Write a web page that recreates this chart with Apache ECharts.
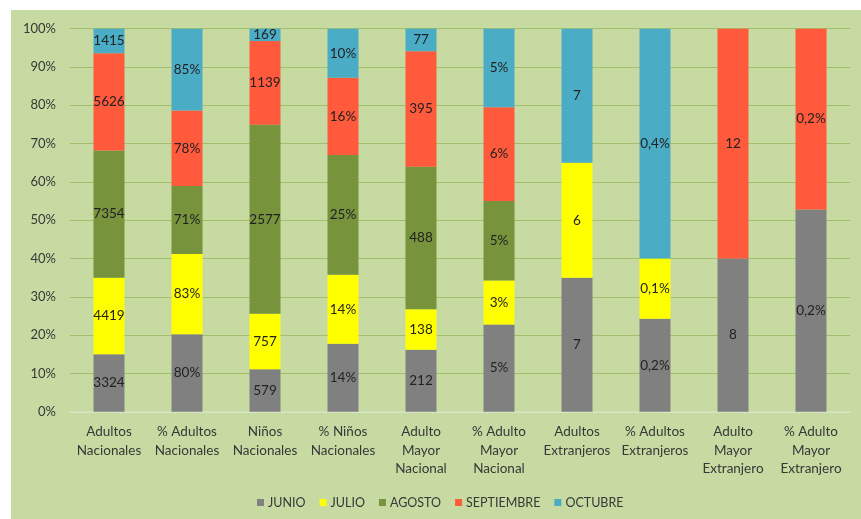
<!DOCTYPE html>
<html>
<head>
<meta charset="utf-8">
<script src="https://cdn.jsdelivr.net/npm/echarts@6/dist/echarts.min.js"></script>
<style>
  html, body { margin: 0; padding: 0; background: #ffffff; }
  #chart { width: 861px; height: 519px; }
</style>
</head>
<body>
<div id="chart"></div>
<script>
// Categories along the x axis (line breaks as shown under each bar)
const categories = [
  'Adultos\nNacionales', '% Adultos\nNacionales',
  'Niños\nNacionales', '% Niños\nNacionales',
  'Adulto\nMayor\nNacional', '% Adulto\nMayor\nNacional',
  'Adultos\nExtranjeros', '% Adultos\nExtranjeros',
  'Adulto\nMayor\nExtranjero', '% Adulto\nMayor\nExtranjero'
];
// Which categories hold percentages (labels get a % sign)
const isPercent = [false, true, false, true, false, true, false, true, false, true];

// Monthly values per category (null = no record that month)
const junio      = [3324, 80.4,  579, 14.0, 212, 5.13, 7,    0.17, 8,    0.19];
const julio      = [4419, 83.1,  757, 14.2, 138, 2.59, 6,    0.11, null, null];
const agosto     = [7354, 70.6, 2577, 24.7, 488, 4.68, null, null, null, null];
const septiembre = [5626, 78.4, 1139, 15.9, 395, 5.51, null, null, 12,   0.17];
const octubre    = [1415, 84.8,  169, 10.1,  77, 4.62, 7,    0.42, null, null];

const seriesNames  = ['JUNIO', 'JULIO', 'AGOSTO', 'SEPTIEMBRE', 'OCTUBRE'];
const seriesValues = [junio, julio, agosto, septiembre, octubre];
const seriesColors = ['#808080', '#ffff00', '#77933c', '#ff5a3c', '#4bacc6'];

const yTicks = [0, 10, 20, 30, 40, 50, 60, 70, 80, 90, 100];

// Per-category totals so each column stacks to 100%
const totals = categories.map((_, i) =>
  seriesValues.reduce((s, arr) => s + (arr[i] || 0), 0));

function fmtLabel(raw, i) {
  if (!isPercent[i]) return String(raw);
  if (raw < 1) return raw.toFixed(1).replace('.', ',') + '%';
  return Math.round(raw) + '%';
}

const FONT = 'Lato, "Open Sans", sans-serif';
const TEXT = '#383838';

const series = seriesNames.map((name, k) => ({
  name: name,
  type: 'bar',
  stack: 'total',
  barWidth: 31,
  itemStyle: { color: seriesColors[k] },
  data: seriesValues[k].map((v, i) => ({
    value: v == null ? null : v / totals[i] * 100,
    raw: v
  })),
  label: {
    show: true,
    position: 'inside',
    color: '#222222',
    fontFamily: FONT,
    fontSize: 13.5,
    formatter: p => p.data.raw == null ? '' : fmtLabel(p.data.raw, p.dataIndex)
  }
}));

const chart = echarts.init(document.getElementById('chart'), null, { renderer: 'canvas' });
chart.setOption({
  animation: false,
  backgroundColor: 'transparent',
  graphic: [{
    type: 'rect',
    z: -10,
    silent: true,
    shape: { x: 11, y: 10, width: 850, height: 509 },
    style: { fill: '#c6daa2' }
  }],
  textStyle: { fontFamily: FONT },
  grid: { left: 70, right: 11, top: 28.7, bottom: 107.3, containLabel: false },
  legend: {
    top: 491,
    left: 252,
    itemWidth: 7,
    itemHeight: 7,
    itemGap: 14,
    icon: 'rect',
    textStyle: { color: TEXT, fontFamily: FONT, fontSize: 12.5, padding: [0, 0, 0, -1] },
    data: seriesNames
  },
  xAxis: {
    type: 'category',
    data: categories,
    axisTick: { show: false },
    axisLine: { lineStyle: { color: '#e0ead0', width: 1.5 } },
    axisLabel: {
      color: TEXT,
      fontFamily: FONT,
      fontSize: 13.5,
      lineHeight: 18.5,
      margin: 11,
      interval: 0
    }
  },
  yAxis: {
    type: 'value',
    min: yTicks[0],
    max: yTicks[yTicks.length - 1],
    interval: yTicks[1] - yTicks[0],
    axisLine: { show: false },
    axisTick: { show: false },
    splitLine: { lineStyle: { color: '#a2bf6c', width: 1 } },
    axisLabel: {
      color: TEXT,
      fontFamily: FONT,
      fontSize: 13,
      margin: 14,
      formatter: '{value}%'
    }
  },
  series: series
});
</script>
</body>
</html>
